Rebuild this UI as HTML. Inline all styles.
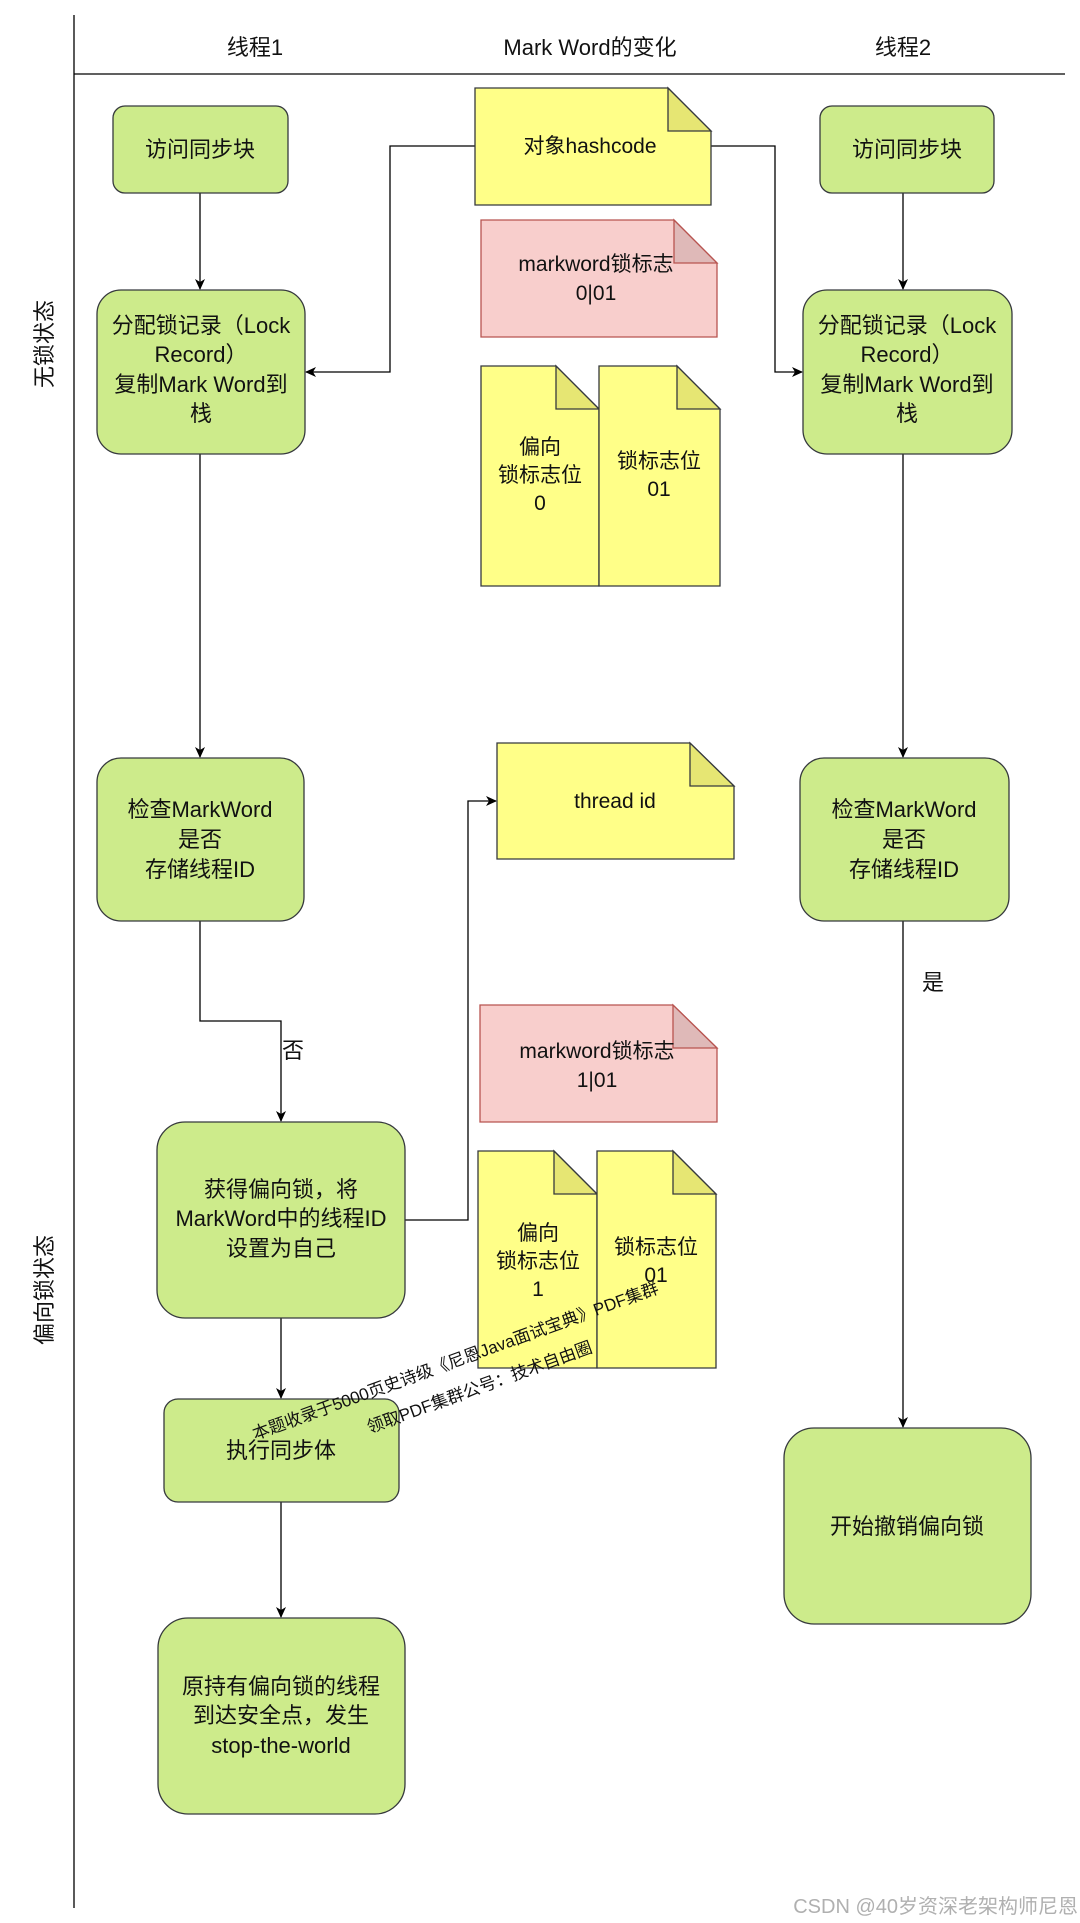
<!DOCTYPE html>
<html><head><meta charset="utf-8"><style>
html,body{margin:0;padding:0;background:#fff;}
svg{display:block;}
text{font-family:"Liberation Sans","Noto Sans CJK SC",sans-serif;fill:#111;}
</style></head><body>
<svg width="1080" height="1923" viewBox="0 0 1080 1923" xmlns="http://www.w3.org/2000/svg">
<defs>
<marker id="a" markerWidth="12" markerHeight="12" refX="10" refY="6" orient="auto" markerUnits="userSpaceOnUse">
<path d="M0,1 L11,6 L0,11 L3,6 Z" fill="#000"/>
</marker>
</defs>
<line x1="74" y1="15" x2="74" y2="1908" stroke="#000" stroke-width="1.3"/>
<line x1="74" y1="74" x2="1065" y2="74" stroke="#000" stroke-width="1.3"/>
<g font-size="22" text-anchor="middle">
<text x="255" y="55">线程1</text>
<text x="590" y="55">Mark Word的变化</text>
<text x="903" y="55">线程2</text>
</g>
<text x="0" y="0" font-size="22" text-anchor="middle" transform="translate(52,344) rotate(-90)">无锁状态</text>
<text x="0" y="0" font-size="22" text-anchor="middle" transform="translate(52,1290) rotate(-90)">偏向锁状态</text>

<g stroke="#000" stroke-width="1.3" fill="none">
<line x1="200" y1="193" x2="200" y2="289" marker-end="url(#a)"/>
<line x1="903" y1="193" x2="903" y2="289" marker-end="url(#a)"/>
<polyline points="475,146 390,146 390,372 306,372" marker-end="url(#a)"/>
<polyline points="711,146 775,146 775,372 802,372" marker-end="url(#a)"/>
<line x1="200" y1="454" x2="200" y2="757" marker-end="url(#a)"/>
<line x1="903" y1="454" x2="903" y2="757" marker-end="url(#a)"/>
<polyline points="200,921 200,1021 281,1021 281,1121" marker-end="url(#a)"/>
<polyline points="405,1220 468,1220 468,801 496,801" marker-end="url(#a)"/>
<line x1="281" y1="1318" x2="281" y2="1398" marker-end="url(#a)"/>
<line x1="281" y1="1502" x2="281" y2="1617" marker-end="url(#a)"/>
<line x1="903" y1="921" x2="903" y2="1427" marker-end="url(#a)"/>
</g>
<text x="293" y="1058" font-size="22" text-anchor="middle">否</text>
<text x="933" y="990" font-size="22" text-anchor="middle">是</text>

<g fill="#cdeb8b" stroke="#36393d" stroke-width="1.3">
<rect x="113" y="106" width="175" height="87" rx="12"/>
<rect x="820" y="106" width="174" height="87" rx="12"/>
<rect x="97" y="290" width="208" height="164" rx="24"/>
<rect x="803" y="290" width="209" height="164" rx="24"/>
<rect x="97" y="758" width="207" height="163" rx="24"/>
<rect x="800" y="758" width="209" height="163" rx="24"/>
<rect x="157" y="1122" width="248" height="196" rx="28"/>
<rect x="164" y="1399" width="235" height="103" rx="14"/>
<rect x="158" y="1618" width="247" height="196" rx="30"/>
<rect x="784" y="1428" width="247" height="196" rx="30"/>
</g>
<g font-size="22" text-anchor="middle">
<text x="200" y="157">访问同步块</text>
<text x="907" y="157">访问同步块</text>
<text x="201" y="333">分配锁记录（Lock</text><text x="201" y="362">Record）</text><text x="201" y="392">复制Mark Word到</text><text x="201" y="421">栈</text>
<text x="907" y="333">分配锁记录（Lock</text><text x="907" y="362">Record）</text><text x="907" y="392">复制Mark Word到</text><text x="907" y="421">栈</text>
<text x="200" y="817">检查MarkWord</text><text x="200" y="847">是否</text><text x="200" y="877">存储线程ID</text>
<text x="904" y="817">检查MarkWord</text><text x="904" y="847">是否</text><text x="904" y="877">存储线程ID</text>
<text x="281" y="1197">获得偏向锁，将</text><text x="281" y="1226">MarkWord中的线程ID</text><text x="281" y="1256">设置为自己</text>
<text x="281" y="1458">执行同步体</text>
<text x="281" y="1694">原持有偏向锁的线程</text><text x="281" y="1723">到达安全点，发生</text><text x="281" y="1753">stop-the-world</text>
<text x="907" y="1534">开始撤销偏向锁</text>
</g>

<g stroke="#36393d" stroke-width="1.3">
<path d="M475,88 H668 L711,131 V205 H475 Z" fill="#ffff88"/>
<path d="M668,88 V131 H711 Z" fill="#e6e673"/>
<path d="M481,220 H674 L717,263 V337 H481 Z" fill="#f8cecc" stroke="#b85450"/>
<path d="M674,220 V263 H717 Z" fill="#dfb9b8" stroke="#b85450"/>
<path d="M481,366 H556 L599,409 V586 H481 Z" fill="#ffff88"/>
<path d="M556,366 V409 H599 Z" fill="#e6e673"/>
<path d="M599,366 H677 L720,409 V586 H599 Z" fill="#ffff88"/>
<path d="M677,366 V409 H720 Z" fill="#e6e673"/>
<path d="M497,743 H690 L734,786 V859 H497 Z" fill="#ffff88"/>
<path d="M690,743 V786 H734 Z" fill="#e6e673"/>
<path d="M480,1005 H673 L717,1048 V1122 H480 Z" fill="#f8cecc" stroke="#b85450"/>
<path d="M673,1005 V1048 H717 Z" fill="#dfb9b8" stroke="#b85450"/>
<path d="M478,1151 H554 L597,1194 V1368 H478 Z" fill="#ffff88"/>
<path d="M554,1151 V1194 H597 Z" fill="#e6e673"/>
<path d="M597,1151 H673 L716,1194 V1368 H597 Z" fill="#ffff88"/>
<path d="M673,1151 V1194 H716 Z" fill="#e6e673"/>
</g>
<g font-size="21" text-anchor="middle">
<text x="590" y="153">对象hashcode</text>
<text x="596" y="271">markword锁标志</text><text x="596" y="300">0|01</text>
<text x="540" y="454">偏向</text><text x="540" y="482">锁标志位</text><text x="540" y="510">0</text>
<text x="659" y="468">锁标志位</text><text x="659" y="496">01</text>
<text x="615" y="808">thread id</text>
<text x="597" y="1058">markword锁标志</text><text x="597" y="1087">1|01</text>
<text x="538" y="1240">偏向</text><text x="538" y="1268">锁标志位</text><text x="538" y="1296">1</text>
<text x="656" y="1254">锁标志位</text><text x="656" y="1282">01</text>
</g>
<g font-size="17" transform="translate(255,1440) rotate(-20)">
<text x="0" y="0">本题收录于5000页史诗级《尼恩Java面试宝典》PDF集群</text>
<text x="110" y="33">领取PDF集群公号：技术自由圈</text>
</g>
<text x="1078" y="1913" font-size="20" text-anchor="end" style="fill:#b0b0b0">CSDN @40岁资深老架构师尼恩</text>
</svg>
</body></html>
